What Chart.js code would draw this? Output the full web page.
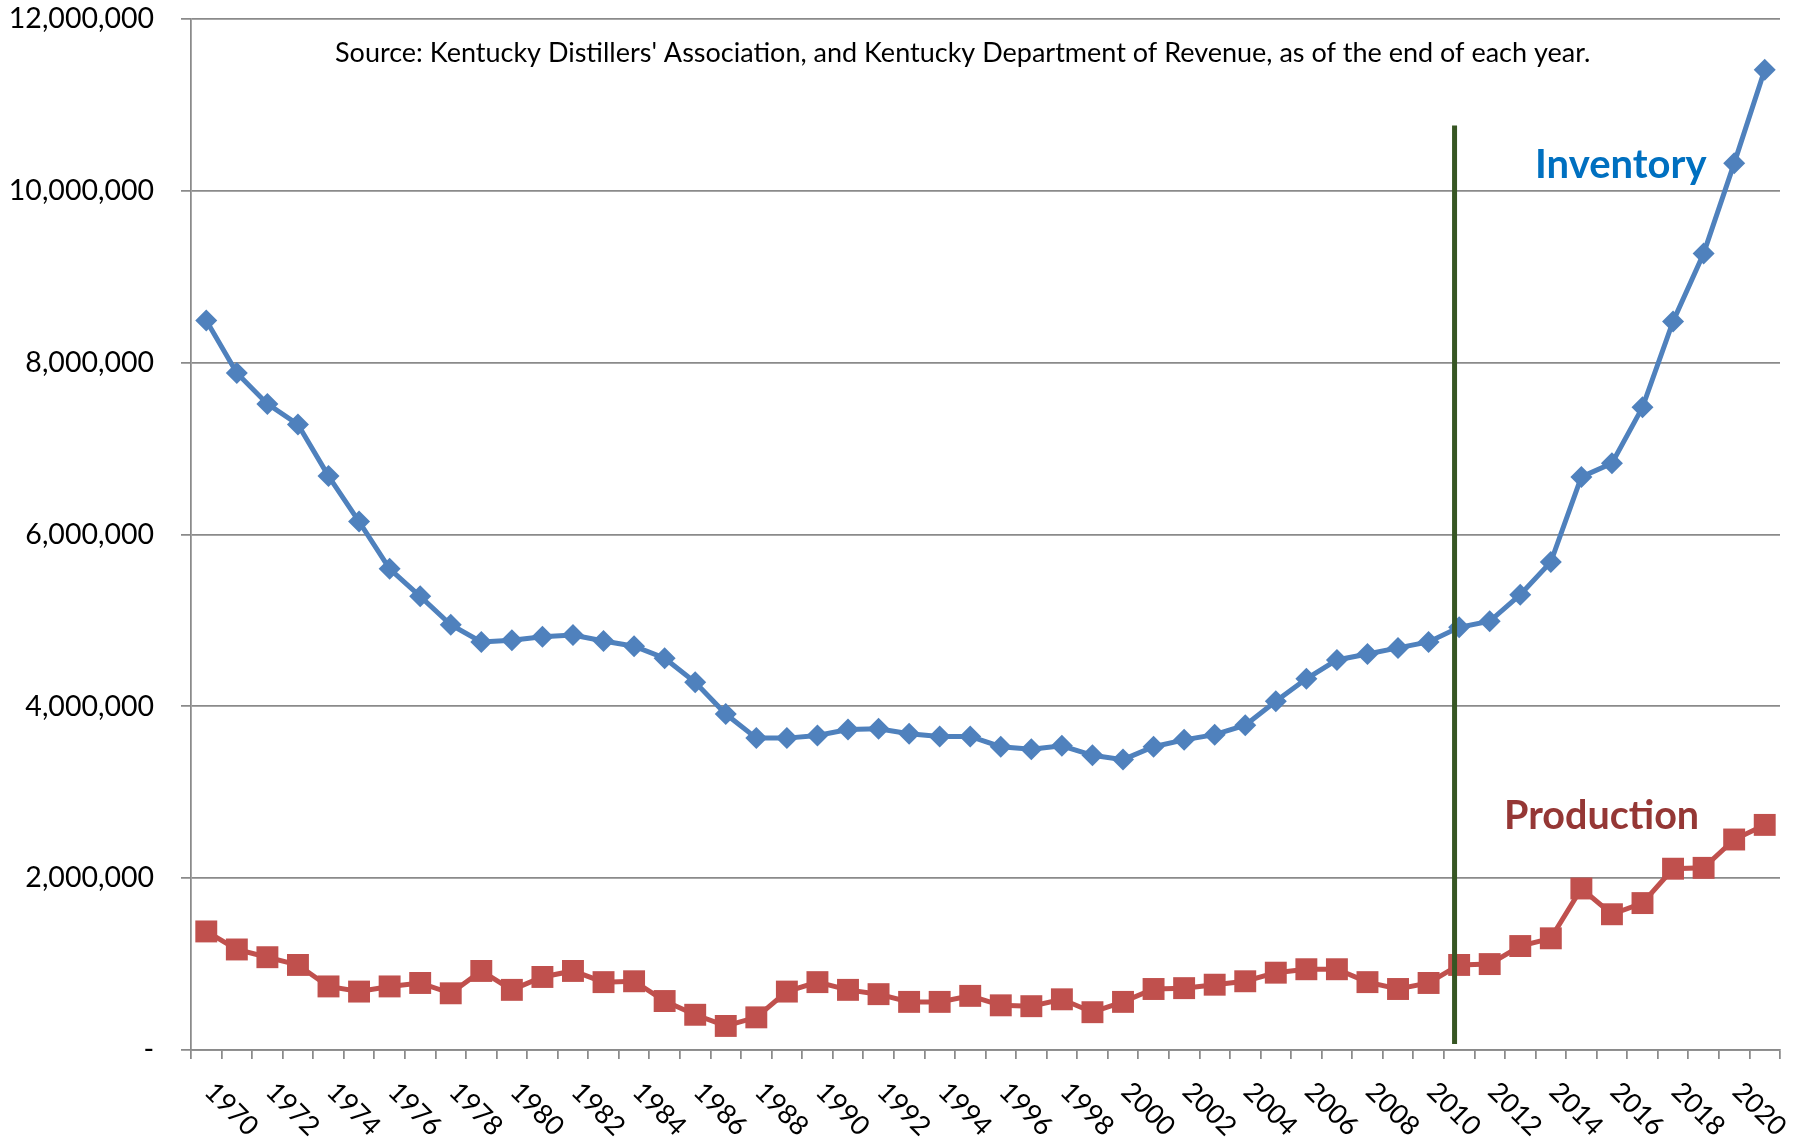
<!DOCTYPE html>
<html>
<head>
<meta charset="utf-8">
<script src="https://cdn.jsdelivr.net/npm/chart.js@4/dist/chart.umd.min.js"></script>
<style>
  html, body { margin: 0; padding: 0; background: #ffffff; }
  #wrap { width: 1798px; height: 1139px; }
</style>
</head>
<body>
<div id="wrap"><canvas id="c" width="1798" height="1139"></canvas></div>
<script>
// ---------- DATA ----------
const years = ['1970','1971','1972','1973','1974','1975','1976','1977','1978','1979',
  '1980','1981','1982','1983','1984','1985','1986','1987','1988','1989',
  '1990','1991','1992','1993','1994','1995','1996','1997','1998','1999',
  '2000','2001','2002','2003','2004','2005','2006','2007','2008','2009',
  '2010','2011','2012','2013','2014','2015','2016','2017','2018','2019',
  '2020','2021'];

const inventory = [8490000, 7880000, 7520000, 7280000, 6680000, 6150000, 5600000, 5280000, 4950000, 4750000,
  4770000, 4810000, 4830000, 4760000, 4700000, 4560000, 4280000, 3910000, 3630000, 3630000,
  3660000, 3730000, 3740000, 3680000, 3650000, 3650000, 3530000, 3500000, 3540000, 3430000,
  3380000, 3530000, 3610000, 3670000, 3780000, 4060000, 4320000, 4540000, 4610000, 4680000,
  4750000, 4920000, 4990000, 5300000, 5680000, 6670000, 6830000, 7480000, 8480000, 9270000,
  10320000, 11410000];

const production = [1380000, 1170000, 1080000, 990000, 740000, 680000, 740000, 780000, 660000, 920000,
  700000, 850000, 920000, 790000, 800000, 570000, 410000, 280000, 380000, 680000,
  790000, 700000, 650000, 560000, 560000, 630000, 520000, 510000, 590000, 440000,
  560000, 710000, 720000, 760000, 800000, 900000, 940000, 940000, 790000, 710000,
  780000, 990000, 1000000, 1210000, 1300000, 1880000, 1580000, 1710000, 2110000, 2120000,
  2450000, 2620000];

const yTickValues = [0, 2000000, 4000000, 6000000, 8000000, 10000000, 12000000];
const xTickLabels = ['1970','1972','1974','1976','1978','1980','1982','1984','1986','1988',
  '1990','1992','1994','1996','1998','2000','2002','2004','2006','2008',
  '2010','2012','2014','2016','2018','2020'];

const seriesNames = ['Inventory', 'Production'];
const sourceNote = "Source: Kentucky Distillers' Association, and Kentucky Department of Revenue, as of the end of each year.";
// vertical divider (position in year units, value range in gallons)
const dividerYear = 2010.85;
const dividerFrom = 70000;
const dividerTo = 10760000;

// ---------- STYLE ----------
const GRID = '#8a8a8a';
const INV_COLOR = '#4F81BD';
const PROD_COLOR = '#C0504D';

const fmt = v => v === 0 ? '-' : Math.round(v).toLocaleString('en-US');

const decor = {
  id: 'decor',
  afterDatasetsDraw(chart) {
    const ctx = chart.ctx;
    const x = chart.scales.x, y = chart.scales.y;
    const px = x.getPixelForValue(dividerYear - Number(years[0]));
    ctx.save();
    ctx.strokeStyle = '#375623';
    ctx.lineWidth = 5;
    ctx.beginPath();
    ctx.moveTo(px, y.getPixelForValue(dividerFrom));
    ctx.lineTo(px, y.getPixelForValue(dividerTo));
    ctx.stroke();
    ctx.restore();
  },
  afterDraw(chart) {
    const ctx = chart.ctx;
    const x = chart.scales.x;
    const area = chart.chartArea;
    ctx.save();
    // rotated x tick labels
    ctx.fillStyle = '#000000';
    ctx.font = '27px Lato';
    ctx.textAlign = 'left';
    ctx.textBaseline = 'middle';
    xTickLabels.forEach(lbl => {
      const idx = years.indexOf(lbl);
      const px = x.getPixelForValue(idx);
      ctx.save();
      ctx.translate(px + 3, area.bottom + 37);
      ctx.rotate(Math.PI / 4);
      ctx.fillText(lbl, 0, 0);
      ctx.restore();
    });
    // source note
    ctx.textBaseline = 'alphabetic';
    ctx.font = '27px Lato';
    ctx.fillText(sourceNote, 335, 62);
    // series labels
    ctx.fillStyle = '#0070C0';
    ctx.font = 'bold 40px Lato';
    ctx.fillText(seriesNames[0], 1535, 178);
    ctx.fillStyle = '#953735';
    ctx.font = 'bold 39.5px Lato';
    ctx.fillText(seriesNames[1], 1504, 829);
    ctx.restore();
  }
};

function build() {
  new Chart(document.getElementById('c'), {
    type: 'line',
    data: {
      labels: years,
      datasets: [
        {
          label: seriesNames[0],
          data: inventory,
          borderColor: INV_COLOR,
          backgroundColor: INV_COLOR,
          borderWidth: 5,
          pointStyle: 'rectRot',
          pointRadius: 11,
          pointBorderWidth: 0,
          pointBackgroundColor: INV_COLOR,
          tension: 0,
          clip: false
        },
        {
          label: seriesNames[1],
          data: production,
          borderColor: PROD_COLOR,
          backgroundColor: PROD_COLOR,
          borderWidth: 5,
          pointStyle: 'rect',
          pointRadius: 15.5,
          pointBorderWidth: 0,
          pointBackgroundColor: PROD_COLOR,
          tension: 0,
          clip: false
        }
      ]
    },
    options: {
      responsive: false,
      animation: false,
      devicePixelRatio: 1,
      events: [],
      layout: { padding: { top: 19, right: 18, left: 0, bottom: 0 } },
      plugins: { legend: { display: false }, tooltip: { enabled: false } },
      scales: {
        x: {
          type: 'category',
          offset: true,
          grid: {
            display: true,
            offset: true,
            drawOnChartArea: false,
            drawTicks: true,
            tickLength: 9,
            color: GRID,
            lineWidth: 1.75
          },
          border: { display: true, color: GRID, width: 1.75 },
          ticks: { display: false, autoSkip: false },
          afterFit: s => { s.height = 89; s.paddingLeft = 0; s.paddingRight = 0; }
        },
        y: {
          min: 0,
          max: 12000000,
          afterBuildTicks: s => { s.ticks = yTickValues.map(v => ({ value: v })); },
          ticks: {
            callback: v => fmt(v),
            color: '#000000',
            font: { family: 'Lato', size: 28.5 },
            padding: 27
          },
          grid: {
            color: GRID,
            lineWidth: 1.75,
            drawTicks: true,
            tickLength: 10
          },
          border: { display: true, color: GRID, width: 1.75 },
          afterFit: s => { s.width = 191; s.paddingTop = 0; s.paddingBottom = 0; }
        }
      }
    },
    plugins: [decor]
  });
}

Promise.all([
  document.fonts.load('27px Lato'),
  document.fonts.load('bold 40px Lato')
]).then(build, build);
</script>
</body>
</html>
